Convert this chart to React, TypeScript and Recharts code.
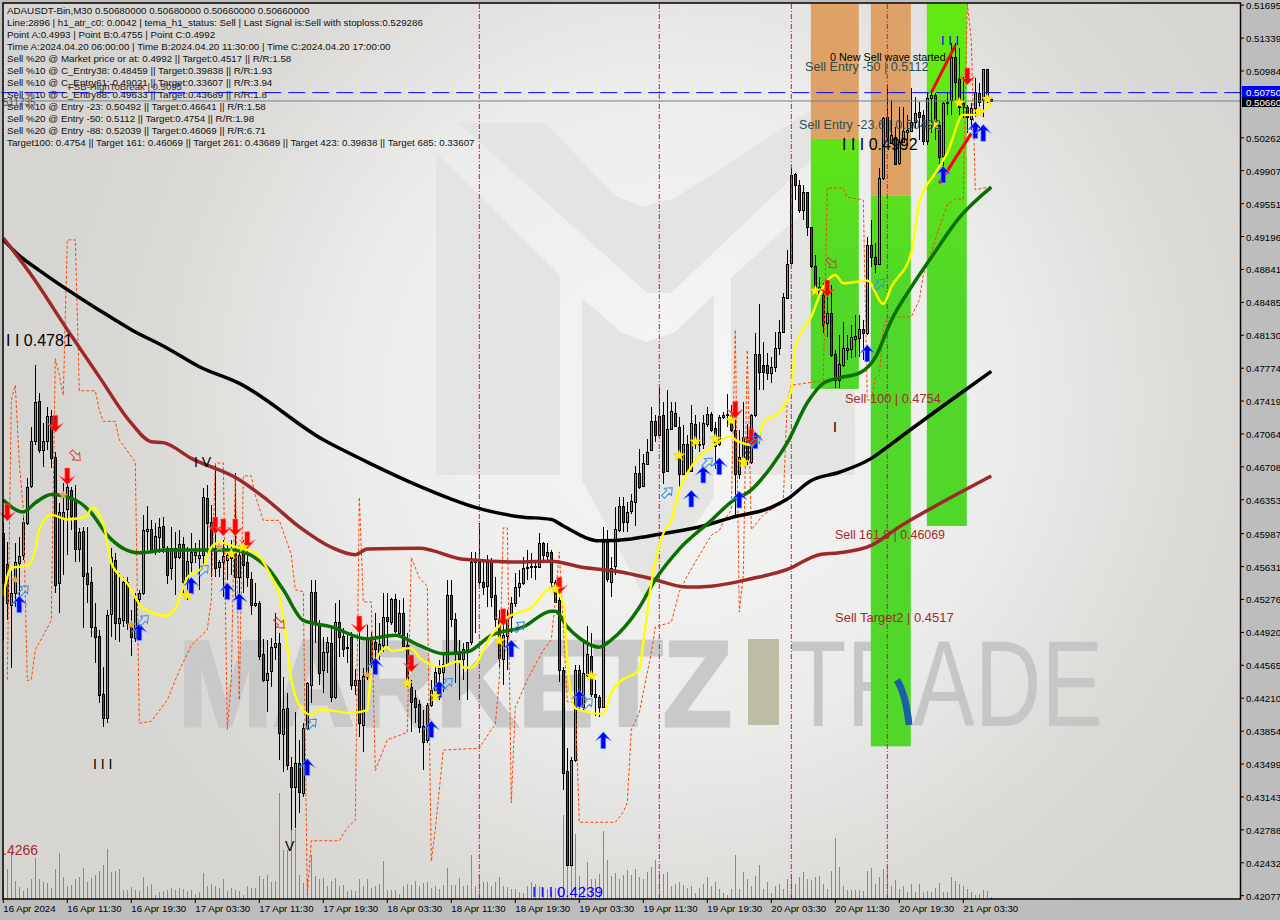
import React from "react";
import { ComposedChart, Bar, Line, XAxis, YAxis, ReferenceArea, ReferenceLine } from "recharts";

// All prices below are in ten-thousandths (4599 = 0.4599).
const UNIT = 10000;
const opens = [4599,4566,4522,4535,4567,4576,4610,4650,4699,4742,4689,4699,4726,4681,4545,4616,4625,4646,4635,4582,4602,4556,4546,4498,4488,4425,4400,4512,4570,4502,4505,4547,4502,4486,4528,4535,4602,4604,4581,4595,4607,4583,4562,4583,4573,4587,4549,4568,4576,4572,4576,4637,4611,4583,4563,4568,4570,4572,4578,4552,4579,4568,4550,4522,4524,4469,4441,4450,4476,4481,4382,4410,4347,4325,4351,4319,4389,4435,4536,4500,4451,4471,4481,4422,4503,4488,4475,4487,4435,4441,4392,4444,4485,4482,4470,4478,4509,4503,4528,4491,4513,4478,4433,4421,4415,4391,4376,4414,4430,4448,4449,4459,4532,4507,4469,4463,4473,4482,4568,4568,4546,4542,4568,4532,4507,4463,4488,4509,4524,4541,4545,4562,4563,4563,4563,4589,4575,4579,4546,4527,4451,4342,4241,4354,4451,4411,4446,4467,4425,4422,4412,4590,4547,4564,4603,4629,4611,4623,4633,4664,4650,4674,4689,4720,4705,4727,4666,4712,4729,4714,4663,4695,4666,4717,4695,4696,4717,4728,4713,4695,4725,4727,4727,4711,4663,4681,4703,4676,4727,4793,4781,4781,4772,4779,4799,4817,4853,4891,4987,4975,4948,4968,4930,4888,4865,4856,4826,4837,4793,4765,4781,4797,4798,4809,4810,4820,4815,4910,4897,4890,4983,5049,5021,5027,4999,5022,5032,5034,5043,5054,5051,5023,5069,5072,5040,5007,5064,5067,5113,5090,5064,5060,5046,5058,5075,5067,5100,5068];
const highs = [4610,4590,4558,4589,4595,4617,4659,4714,4781,4751,4718,4735,4732,4687,4632,4653,4654,4649,4651,4605,4606,4606,4563,4524,4495,4455,4516,4583,4578,4556,4552,4552,4516,4535,4538,4619,4629,4613,4610,4616,4617,4585,4606,4600,4603,4595,4584,4599,4589,4592,4648,4651,4630,4673,4570,4592,4586,4592,4664,4586,4592,4581,4557,4545,4526,4485,4484,4486,4513,4491,4444,4427,4357,4406,4376,4394,4438,4549,4549,4505,4487,4487,4498,4524,4527,4497,4492,4492,4452,4495,4454,4500,4492,4513,4502,4535,4535,4529,4533,4527,4529,4491,4441,4430,4419,4408,4416,4441,4455,4462,4470,4549,4549,4513,4484,4481,4482,4579,4579,4610,4570,4576,4572,4552,4516,4513,4516,4530,4556,4559,4573,4581,4578,4568,4599,4590,4589,4581,4549,4535,4455,4367,4357,4457,4457,4482,4499,4491,4441,4424,4606,4603,4573,4628,4638,4638,4633,4642,4672,4690,4685,4701,4736,4727,4757,4741,4754,4741,4741,4725,4716,4705,4738,4727,4719,4727,4736,4730,4719,4727,4730,4749,4738,4722,4711,4741,4717,4728,4815,4847,4806,4794,4790,4816,4829,4859,4905,4994,4988,4981,4975,4968,4930,4900,4876,4869,4859,4867,4797,4813,4827,4813,4824,4835,4835,4829,4919,4937,4913,4994,5049,5083,5067,5038,5059,5060,5051,5080,5070,5065,5056,5075,5076,5075,5043,5065,5075,5129,5129,5123,5092,5062,5064,5091,5085,5100,5100,5068];
const lows = [4484,4505,4454,4519,4519,4570,4608,4648,4694,4686,4671,4689,4670,4535,4513,4554,4576,4603,4568,4568,4497,4524,4487,4459,4416,4390,4394,4487,4484,4482,4498,4495,4467,4482,4524,4532,4581,4578,4576,4578,4578,4544,4549,4532,4571,4535,4527,4557,4567,4538,4565,4576,4552,4552,4552,4530,4549,4554,4527,4530,4535,4541,4511,4519,4462,4438,4406,4433,4462,4354,4341,4343,4279,4281,4297,4314,4387,4416,4481,4435,4427,4448,4417,4420,4465,4465,4459,4430,4424,4379,4363,4441,4454,4457,4462,4471,4476,4500,4491,4487,4476,4433,4384,4394,4383,4343,4373,4412,4422,4419,4428,4457,4498,4437,4419,4441,4419,4478,4491,4543,4532,4519,4519,4498,4455,4435,4451,4491,4519,4530,4543,4549,4551,4549,4562,4567,4567,4541,4524,4438,4322,4240,4240,4352,4408,4408,4444,4422,4402,4401,4411,4546,4530,4554,4601,4601,4601,4620,4607,4647,4649,4673,4688,4698,4704,4652,4665,4711,4714,4648,4662,4662,4665,4690,4687,4690,4714,4709,4669,4693,4723,4714,4709,4619,4658,4678,4673,4674,4725,4754,4754,4765,4761,4773,4792,4816,4853,4890,4959,4945,4937,4920,4886,4860,4854,4815,4811,4789,4756,4756,4779,4786,4788,4789,4789,4786,4813,4887,4880,4889,4981,5024,5020,4997,4997,5021,5024,5032,5037,5024,5018,5018,5031,5024,4994,4996,5051,5051,5067,5051,5048,5031,5035,5049,5059,5049,5064,5066];
const closes = [4545,4524,4535,4568,4575,4611,4649,4699,4741,4689,4699,4726,4680,4543,4622,4622,4649,4618,4582,4600,4553,4544,4498,4487,4424,4400,4511,4573,4502,4508,4546,4502,4487,4529,4535,4603,4604,4581,4596,4606,4584,4554,4583,4573,4587,4547,4569,4579,4579,4576,4638,4610,4583,4562,4568,4575,4576,4576,4552,4576,4565,4552,4522,4524,4467,4441,4448,4476,4481,4383,4409,4349,4325,4351,4320,4389,4437,4536,4502,4448,4471,4482,4422,4503,4487,4474,4476,4435,4441,4394,4445,4485,4458,4474,4480,4509,4504,4528,4494,4513,4477,4442,4417,4412,4390,4374,4414,4430,4449,4454,4458,4532,4506,4469,4463,4474,4482,4568,4570,4546,4541,4568,4530,4507,4464,4489,4509,4524,4541,4545,4562,4563,4564,4564,4589,4576,4579,4546,4525,4451,4340,4241,4354,4451,4414,4448,4469,4425,4422,4412,4590,4550,4562,4604,4629,4611,4622,4634,4664,4649,4675,4687,4720,4705,4726,4665,4712,4731,4715,4663,4696,4665,4718,4695,4696,4718,4728,4711,4693,4725,4727,4728,4711,4663,4681,4703,4678,4727,4793,4773,4773,4772,4779,4799,4817,4854,4890,4986,4975,4948,4968,4930,4888,4865,4856,4824,4837,4792,4765,4782,4799,4799,4811,4812,4820,4815,4910,4897,4890,4983,5048,5027,5029,4998,5022,5034,5035,5043,5053,5049,5023,5069,5072,5042,5005,5064,5065,5113,5086,5059,5059,5049,5058,5076,5065,5100,5067,5066];
const volumes = [18,30,46,18,12,8,11,20,41,20,17,16,11,30,46,22,13,14,20,22,31,17,21,24,28,34,50,27,28,30,9,9,12,9,8,22,13,15,4,7,8,9,11,9,11,10,8,9,5,7,26,13,15,13,11,20,8,11,9,8,4,13,11,11,23,20,24,17,18,106,49,49,113,70,24,16,21,44,23,20,21,13,18,21,13,14,8,9,8,20,13,20,11,13,15,38,9,9,9,5,13,15,14,18,13,16,17,11,13,10,14,31,14,14,21,13,14,44,13,23,17,17,13,17,22,13,12,10,10,7,6,13,17,15,13,11,10,8,11,10,84,68,63,65,23,13,37,20,20,25,68,39,23,26,20,24,29,24,30,22,20,27,32,39,28,25,27,13,15,17,14,11,13,6,11,15,22,13,17,10,6,4,10,44,10,27,20,13,23,34,10,17,6,13,15,10,20,25,15,22,27,20,19,22,23,15,10,28,61,32,13,9,9,9,9,8,28,31,15,22,30,32,13,19,10,13,7,15,7,15,7,8,7,11,16,7,7,22,18,15,13,10,7,4,5,9,8,2];

const blackIdx = [0,4,9,24,32,41,49,59,80,91,104,112,118,129,137,140,149,157,164,175,182,192,196,202,209,217,220,224,237,247];
const blackVal = [4916,4899,4883,4840,4819,4799,4779,4761,4700,4676,4650,4636,4627,4617,4614,4607,4591,4593,4598,4607,4616,4627,4636,4656,4665,4680,4689,4702,4743,4774];
const brownIdx = [0,7,16,24,32,37,40,47,59,66,74,82,88,91,104,115,129,137,144,156,162,171,177,187,196,204,209,217,224,237,247];
const brownVal = [4918,4878,4819,4768,4718,4698,4697,4680,4657,4635,4606,4584,4576,4582,4583,4571,4568,4569,4563,4556,4550,4541,4542,4550,4560,4576,4578,4586,4606,4638,4661];
const greenIdx = [0,5,8,12,18,22,26,34,41,51,57,66,70,75,82,91,98,104,110,116,122,130,137,138,141,144,149,152,159,163,169,177,182,187,192,196,201,205,209,214,218,222,227,232,239,247];
const greenVal = [4635,4622,4632,4641,4635,4621,4597,4578,4581,4581,4581,4562,4538,4505,4498,4485,4489,4478,4469,4471,4489,4498,4515,4515,4498,4486,4476,4484,4519,4549,4582,4613,4633,4646,4671,4697,4740,4761,4767,4772,4789,4829,4865,4897,4940,4973];
const yellowIdx = [0,2,6,8,9,12,16,21,22,25,27,31,35,41,43,46,50,52,54,59,63,67,69,71,72,75,77,79,87,91,92,96,97,102,104,109,114,115,117,122,126,132,137,140,141,143,150,152,154,159,160,162,165,167,169,172,177,182,183,188,190,194,197,198,202,205,208,210,216,220,222,227,229,233,236,240,243,247];
const yellowVal = [4532,4562,4564,4581,4603,4619,4614,4618,4627,4610,4567,4545,4518,4510,4518,4551,4563,4584,4589,4583,4578,4552,4532,4476,4441,4408,4403,4409,4405,4408,4448,4476,4472,4475,4465,4455,4461,4454,4454,4489,4508,4519,4540,4524,4462,4410,4404,4427,4438,4452,4481,4545,4599,4613,4646,4671,4692,4704,4700,4694,4718,4730,4754,4800,4833,4865,4878,4869,4872,4847,4865,4902,4956,4988,5010,5051,5051,5063];
const stopIdx = [1,2,3,4,5,6,7,8,12,13,14,15,16,18,19,23,24,25,28,29,30,33,34,37,41,44,47,51,52,53,55,56,57,58,59,60,62,63,65,69,72,73,75,76,77,84,86,88,89,90,92,93,96,101,102,104,106,107,108,110,119,122,123,124,125,126,127,128,131,135,137,138,139,141,143,144,153,155,156,157,159,160,162,163,167,169,171,173,177,179,180,182,183,184,185,186,187,190,194,195,196,197,205,206,210,211,214,215,216,217,218,219,220,221,227,229,230,231,233,236,238,240,241,242,243,245,247];
const stopVal = [4441,4743,4759,4675,4625,4440,4441,4473,4505,4788,4770,4748,4916,4916,4753,4753,4732,4720,4720,4700,4694,4676,4394,4396,4419,4451,4478,4495,4527,4675,4675,4387,4441,4663,4419,4661,4661,4640,4613,4613,4576,4538,4536,4208,4267,4267,4281,4289,4638,4525,4525,4343,4376,4384,4573,4551,4542,4245,4279,4365,4367,4387,4392,4441,4605,4605,4308,4411,4441,4473,4484,4527,4579,4417,4416,4287,4287,4298,4308,4387,4405,4427,4470,4498,4503,4536,4553,4568,4597,4602,4612,4624,4819,4514,4554,4797,4603,4619,4630,4635,4743,4759,4764,4972,4972,4962,4960,4959,4743,4743,4767,4770,4819,4832,4833,4851,4878,4889,4916,4954,4960,4960,5171,5132,4970,4972,4973];

const upIdx = [4,34,47,56,59,76,93,107,109,127,144,150,172,175,179,184,188,216,235,243,245];
const upVal = [4522,4492,4542,4536,4525,4346,4455,4387,4430,4474,4420,4375,4636,4662,4671,4635,4699,4793,4986,5034,5031];
const downIdx = [1,13,16,53,55,58,61,89,102,125,139,183,187,206,241];
const downVal = [4622,4718,4661,4608,4606,4606,4592,4501,4459,4509,4543,4733,4703,4864,5093];
const starIdx = [46,57,60,101,108,124,138,147,169,173,178,182,185,203,233,239,244,246];
const starVal = [4532,4577,4584,4437,4423,4483,4539,4445,4683,4698,4701,4721,4676,4861,5040,5064,5054,5068];
const crossIdx = [3,15,32,54,91];
const crossVal = [4549,4640,4500,4584,4446];
const hollowUpIdx = [5,35,50,77,111,129,146,166,176,188,219];
const hollowUpVal = [4537,4505,4559,4393,4437,4498,4415,4643,4675,4699,4868];
const hollowDownIdx = [18,69,207];
const hollowDownVal = [4683,4502,4891];

const xLabels = ["16 Apr 2024","16 Apr 11:30","16 Apr 19:30","17 Apr 03:30","17 Apr 11:30","17 Apr 19:30","18 Apr 03:30","18 Apr 11:30","18 Apr 19:30","19 Apr 03:30","19 Apr 11:30","19 Apr 19:30","20 Apr 03:30","20 Apr 11:30","20 Apr 19:30","21 Apr 03:30"];
const yTicks = [0.51695,0.51339,0.50984,0.50262,0.49907,0.49551,0.49196,0.48841,0.48485,0.4813,0.47774,0.47419,0.47064,0.46708,0.46353,0.45987,0.45631,0.45276,0.4492,0.44565,0.4421,0.43854,0.43499,0.43143,0.42788,0.42432,0.42077];
const sessionLines = [119,164,197,221];
const infoLines = [
  "ADAUSDT-Bin,M30  0.50680000 0.50680000 0.50660000 0.50660000",
  "Line:2896 | h1_atr_c0: 0.0042 | tema_h1_status: Sell | Last Signal is:Sell with stoploss:0.529286",
  "Point A:0.4993 | Point B:0.4755 | Point C:0.4992",
  "Time A:2024.04.20 06:00:00 | Time B:2024.04.20 11:30:00 | Time C:2024.04.20 17:00:00",
  "Sell %20 @ Market price or at: 0.4992 || Target:0.4517 || R/R:1.58",
  "Sell %10 @ C_Entry38: 0.48459 || Target:0.39838 || R/R:1.93",
  "Sell %10 @ C_Entry61: 0.49021 || Target:0.33607 || R/R:3.94",
  "Sell %10 @ C_Entry88: 0.49633 || Target:0.43689 || R/R:1.8",
  "Sell %10 @ Entry -23: 0.50492 || Target:0.46641 || R/R:1.58",
  "Sell %20 @ Entry -50: 0.5112 || Target:0.4754 || R/R:1.98",
  "Sell %20 @ Entry -88: 0.52039 || Target:0.46069 || R/R:6.71",
  "Target100: 0.4754 || Target 161: 0.46069 || Target 261: 0.43689 || Target 423: 0.39838 || Target 685: 0.33607",
];
// [first slot, last slot, low price, high price, colour]
const zones: [number, number, number, number, string][] = [
  [202, 213, 5025, 5171, "#dfa266"],
  [202, 213, 4755, 5025, "url(#zoneG)"],
  [217, 226, 4964, 5171, "#dfa266"],
  [217, 226, 4369, 4964, "url(#zoneG)"],
  [231, 240, 4607, 5171, "url(#zoneG)"],
];
const SLOTS = 310;
const PRICE_MIN = 0.42041;
const PRICE_MAX = 0.51718;

const sparse = (idx: number[], val: number[]) => {
  const m = new Map<number, number>();
  idx.forEach((k, n) => m.set(k, val[n] / UNIT));
  return (k: number) => (m.has(k) ? (m.get(k) as number) : null);
};
const blackAt = sparse(blackIdx, blackVal);
const brownAt = sparse(brownIdx, brownVal);
const greenAt = sparse(greenIdx, greenVal);
const yellowAt = sparse(yellowIdx, yellowVal);
const stopAt = sparse(stopIdx, stopVal);
const upAt = sparse(upIdx, upVal);
const downAt = sparse(downIdx, downVal);
const starAt = sparse(starIdx, starVal);
const crossAt = sparse(crossIdx, crossVal);
const hollowUpAt = sparse(hollowUpIdx, hollowUpVal);
const hollowDownAt = sparse(hollowDownIdx, hollowDownVal);

const table = Array.from({ length: SLOTS }, (_, i) => ({
  i,
  open: i < opens.length ? opens[i] / UNIT : null,
  close: i < opens.length ? closes[i] / UNIT : null,
  high: i < opens.length ? highs[i] / UNIT : null,
  low: i < opens.length ? lows[i] / UNIT : null,
  range: i < opens.length ? [lows[i] / UNIT, highs[i] / UNIT] : null,
  vol: i < volumes.length ? volumes[i] : null,
  black: blackAt(i), brown: brownAt(i), green: greenAt(i), yellow: yellowAt(i), stop: stopAt(i),
  up: upAt(i), down: downAt(i), star: starAt(i), cross: crossAt(i), hollowUp: hollowUpAt(i), hollowDown: hollowDownAt(i),
}));

const FONT = "'Liberation Sans', Arial, sans-serif";

const Candle = (p: any) => {
  const { x, y, width, height, payload } = p;
  if (!payload || payload.open == null || !(height > 0)) return <g />;
  const cx = Math.floor(x + width / 2);
  const perPrice = height / (payload.high - payload.low);
  const yOf = (v: number) => y + (payload.high - v) * perPrice;
  const top = Math.round(yOf(Math.max(payload.open, payload.close)));
  const bot = Math.round(yOf(Math.min(payload.open, payload.close)));
  const bull = payload.close >= payload.open;
  return (
    <g shapeRendering="crispEdges">
      <line x1={cx + 0.5} x2={cx + 0.5} y1={y} y2={y + height} stroke="#000" />
      <rect x={cx - 0.5} y={top + 0.5} width={2} height={Math.max(bot - top, 1)} fill={bull ? "#2cc17e" : "#ac1f42"} stroke="#000" />
    </g>
  );
};
const VolBar = (p: any) => {
  const { x, y, width, height } = p;
  if (!(height > 0)) return <g />;
  return <rect x={Math.floor(x + width / 2)} y={y} width={1} height={height} fill="#3fbb44" shapeRendering="crispEdges" />;
};
const ZoneRect = (p: any) => (
  <rect x={p.x + 1.5} y={p.y} width={p.width} height={p.height} fill={p.fill} stroke="none" />
);

const starPath = (cx: number, cy: number, r: number) => {
  let d = "";
  for (let n = 0; n < 10; n++) {
    const a = -Math.PI / 2 + (n * Math.PI) / 5;
    const rr = n % 2 ? r * 0.42 : r;
    d += `${n ? "L" : "M"}${cx + rr * Math.cos(a)},${cy + rr * Math.sin(a)}`;
  }
  return d + "Z";
};
const marker = (kind: string) => (p: any) => {
  const { cx, cy, index } = p;
  if (cx == null || cy == null || p.value == null) return <g key={index} />;
  if (kind === "up")
    return <path key={index} d={`M${cx},${cy - 9}L${cx + 8},${cy}L${cx + 2.5},${cy - 3}L${cx + 2.5},${cy + 8}L${cx - 2.5},${cy + 8}L${cx - 2.5},${cy - 3}L${cx - 8},${cy}Z`} fill="#0000ff" stroke="#7fb4ff" strokeWidth={0.7} />;
  if (kind === "down")
    return <path key={index} d={`M${cx},${cy + 9}L${cx + 8},${cy}L${cx + 2.5},${cy + 3}L${cx + 2.5},${cy - 8}L${cx - 2.5},${cy - 8}L${cx - 2.5},${cy + 3}L${cx - 8},${cy}Z`} fill="#ff0000" stroke="#ff7a7a" strokeWidth={0.6} />;
  if (kind === "star") return <path key={index} d={starPath(cx, cy, 6)} fill="#ffee00" stroke="#d8c800" strokeWidth={0.4} />;
  if (kind === "cross") return <path key={index} d={starPath(cx, cy, 5)} fill="#e8a050" />;
  if (kind === "hollowUp")
    return <path key={index} transform={`rotate(45 ${cx} ${cy})`} d={`M${cx},${cy - 7}L${cx + 5},${cy - 1}L${cx + 2},${cy - 1}L${cx + 2},${cy + 6}L${cx - 2},${cy + 6}L${cx - 2},${cy - 1}L${cx - 5},${cy - 1}Z`} fill="none" stroke="#3f8fd8" strokeWidth={1} />;
  return <path key={index} transform={`rotate(-45 ${cx} ${cy})`} d={`M${cx},${cy + 7}L${cx + 5},${cy + 1}L${cx + 2},${cy + 1}L${cx + 2},${cy - 6}L${cx - 2},${cy - 6}L${cx - 2},${cy + 1}L${cx - 5},${cy + 1}Z`} fill="none" stroke="#d84030" strokeWidth={1} />;
};

const XTick = (p: any) => {
  const { x, y, payload } = p;
  return (
    <g>
      <line x1={x} x2={x} y1={y - 8} y2={y - 4} stroke="#000" />
      <text x={x} y={y + 5} fontSize={9.7} fontFamily={FONT} fill="#000" textAnchor="start">{xLabels[payload.value / 16]}</text>
    </g>
  );
};
const YTick = (p: any) => {
  const { y, payload } = p;
  return (
    <g>
      <line x1={1240.5} x2={1244} y1={y} y2={y} stroke="#000" />
      <text x={1246} y={y + 4} fontSize={9.7} fontFamily={FONT} fill="#000" textAnchor="start">{Number(payload.value).toFixed(5)}</text>
    </g>
  );
};

const annotations: { t: string; x: number; y: number; s: number; c: string }[] = [
  { t: "FSB-HighToBreak | 0.5095", x: 68, y: 90, s: 9.6, c: "#333" },
  { t: "511735", x: 3, y: 106, s: 10, c: "#555" },
  { t: "Sell Entry -50 | 0.5112", x: 805, y: 71, s: 12.6, c: "#2f4f4f" },
  { t: "0 New Sell wave started", x: 830, y: 61, s: 10.8, c: "#000" },
  { t: "Sell Entry -23.6 | 0.50492", x: 799, y: 129, s: 12.6, c: "#2f4f4f" },
  { t: "I I I 0.4992", x: 842, y: 150, s: 16, c: "#000" },
  { t: "Sell 100 | 0.4754", x: 845, y: 403, s: 12.8, c: "#a52a2a" },
  { t: "Sell 161.8 | 0.46069", x: 835, y: 539, s: 12.4, c: "#a52a2a" },
  { t: "Sell Target2 | 0.4517", x: 835, y: 622, s: 13, c: "#a52a2a" },
  { t: "I I 0.4781", x: 6, y: 346, s: 16, c: "#000" },
  { t: "I V", x: 194, y: 467, s: 14, c: "#000" },
  { t: "V", x: 285, y: 851, s: 14, c: "#000" },
  { t: "I I I", x: 93, y: 769, s: 14, c: "#000" },
  { t: "I  I  I", x: 941, y: 45, s: 13, c: "#0000ff" },
  { t: "I", x: 833, y: 432, s: 14, c: "#000" },
  { t: ".4266", x: 3, y: 855, s: 14, c: "#a52a2a" },
  { t: "I I I 0.4239", x: 532, y: 897, s: 15, c: "#0000ff" },
];

export default function App() {
  return (
    <div style={{ position: "absolute", left: 0, top: 0, width: 1280, height: 920, overflow: "hidden" }}>
      <svg width={1280} height={920} style={{ position: "absolute", left: 0, top: 0 }}>
        <defs>
          <radialGradient id="bg" gradientUnits="userSpaceOnUse" cx={680} cy={400} r={650}>
            <stop offset="0" stopColor="#f6f6f6" />
            <stop offset="0.5" stopColor="#ececeb" />
            <stop offset="0.8" stopColor="#dbdad7" />
            <stop offset="1" stopColor="#d6d5d2" />
          </radialGradient>
          <linearGradient id="zoneG" gradientUnits="userSpaceOnUse" x1={0} y1={100} x2={0} y2={300}>
            <stop offset="0" stopColor="#62e812" />
            <stop offset="1" stopColor="#50d72a" />
          </linearGradient>
        </defs>
        <rect width={1280} height={920} fill="#bdbdbd" />
        <rect x={3} y={3} width={1237} height={896} fill="url(#bg)" />
        <g fill="#e4e4e3">
          <polygon points="458,123 546,123 614,195 643,207 675,198 811,110 855,80 855,120 811,160 671,293 647,293" />
          <polygon points="436,152 560,275 560,475 436,475" />
          <polygon points="582,298 621,332 646,342 675,332 714,295 714,497 646,600 582,480" />
          <polygon points="731,278 855,165 855,475 731,475" />
        </g>
        <text x={178} y={726} fontFamily={FONT} fontWeight="bold" fontSize={123} fill="#c9c9c9" stroke="#c9c9c9" strokeWidth={3} textLength={554} lengthAdjust="spacingAndGlyphs">MARKETZ</text>
        <rect x={748} y={639} width={31} height={86} fill="#bdbca4" />
        <text x={790} y={726} fontFamily={FONT} fontSize={123} fill="#c6c6c6" textLength={313} lengthAdjust="spacingAndGlyphs">TRADE</text>
      </svg>
      <div style={{ position: "absolute", left: 0, top: 0 }}>
        <ComposedChart width={1280} height={920} data={table} margin={{ top: 3, right: 0, bottom: 0, left: 1.3 }} barCategoryGap={0}>
          <XAxis dataKey="i" height={21} interval={0} ticks={xLabels.map((_, n) => n * 16)} tick={<XTick />} tickLine={false} axisLine={false} />
          <XAxis xAxisId="vol" dataKey="i" hide />
          <YAxis orientation="right" width={38.7} domain={[PRICE_MIN, PRICE_MAX]} ticks={yTicks} interval={0} tick={<YTick />} tickLine={false} axisLine={false} type="number" allowDataOverflow />
          <YAxis yAxisId="vol" hide domain={[0, 896]} type="number" allowDataOverflow />
          {zones.map((z, n) => (
            <ReferenceArea key={n} x1={z[0]} x2={z[1]} y1={z[2] / UNIT} y2={z[3] / UNIT} fill={z[4]} fillOpacity={1} stroke="none" shape={<ZoneRect />} />
          ))}
          {sessionLines.map((k) => (
            <ReferenceLine key={k} x={k} stroke="#c0137c" strokeDasharray="5 2 1 2" />
          ))}
          <ReferenceLine y={0.5066} stroke="#708090" />
          <ReferenceLine y={0.5075} stroke="#0000ff" strokeDasharray="17 7" />
          <Bar xAxisId="vol" yAxisId="vol" dataKey="vol" shape={<VolBar />} isAnimationActive={false} />
          <Line dataKey="stop" stroke="#ff4500" strokeWidth={1} strokeDasharray="3 2" dot={false} activeDot={false} connectNulls isAnimationActive={false} />
          <Bar dataKey="range" shape={<Candle />} isAnimationActive={false} />
          <Line dataKey="black" type="monotone" stroke="#000" strokeWidth={3.5} dot={false} activeDot={false} connectNulls isAnimationActive={false} />
          <Line dataKey="brown" type="monotone" stroke="#9c2a2a" strokeWidth={3.5} dot={false} activeDot={false} connectNulls isAnimationActive={false} />
          <Line dataKey="green" type="monotone" stroke="#0a7000" strokeWidth={3.5} dot={false} activeDot={false} connectNulls isAnimationActive={false} />
          <Line dataKey="yellow" type="monotone" stroke="#ffff00" strokeWidth={2.4} dot={false} activeDot={false} connectNulls isAnimationActive={false} />
          <ReferenceLine segment={[{ x: 232, y: 0.5075 }, { x: 238, y: 0.5126 }]} stroke="#ff0000" strokeWidth={3} />
          <ReferenceLine segment={[{ x: 234, y: 0.4977 }, { x: 242, y: 0.5031 }]} stroke="#ff0000" strokeWidth={3} />
          <Line dataKey="up" stroke="none" dot={marker("up")} activeDot={false} isAnimationActive={false} />
          <Line dataKey="down" stroke="none" dot={marker("down")} activeDot={false} isAnimationActive={false} />
          <Line dataKey="star" stroke="none" dot={marker("star")} activeDot={false} isAnimationActive={false} />
          <Line dataKey="cross" stroke="none" dot={marker("cross")} activeDot={false} isAnimationActive={false} />
          <Line dataKey="hollowUp" stroke="none" dot={marker("hollowUp")} activeDot={false} isAnimationActive={false} />
          <Line dataKey="hollowDown" stroke="none" dot={marker("hollowDown")} activeDot={false} isAnimationActive={false} />
        </ComposedChart>
      </div>
      <svg width={1280} height={920} style={{ position: "absolute", left: 0, top: 0, pointerEvents: "none" }}>
        <path d="M897,680 Q906,695 909,725" fill="none" stroke="#1c5fa5" strokeWidth={7} />
        <rect x={3} y={3} width={1237.5} height={896} fill="none" stroke="#000" strokeWidth={1.5} />
        {infoLines.map((t, n) => (
          <text key={n} x={7} y={14 + n * 12} fontSize={9.77} fontFamily={FONT} fill="#111">{t}</text>
        ))}
        {annotations.map((a, n) => (
          <text key={n} x={a.x} y={a.y} fontSize={a.s} fontFamily={FONT} fill={a.c}>{a.t}</text>
        ))}
        <rect x={1242} y={86} width={38} height={12} fill="#0000ff" />
        <text x={1246} y={96} fontSize={9.7} fontFamily={FONT} fill="#fff">0.50750</text>
        <rect x={1242} y={97} width={38} height={10} fill="#000" />
        <text x={1246} y={106} fontSize={9.7} fontFamily={FONT} fill="#fff">0.50660</text>
      </svg>
    </div>
  );
}
